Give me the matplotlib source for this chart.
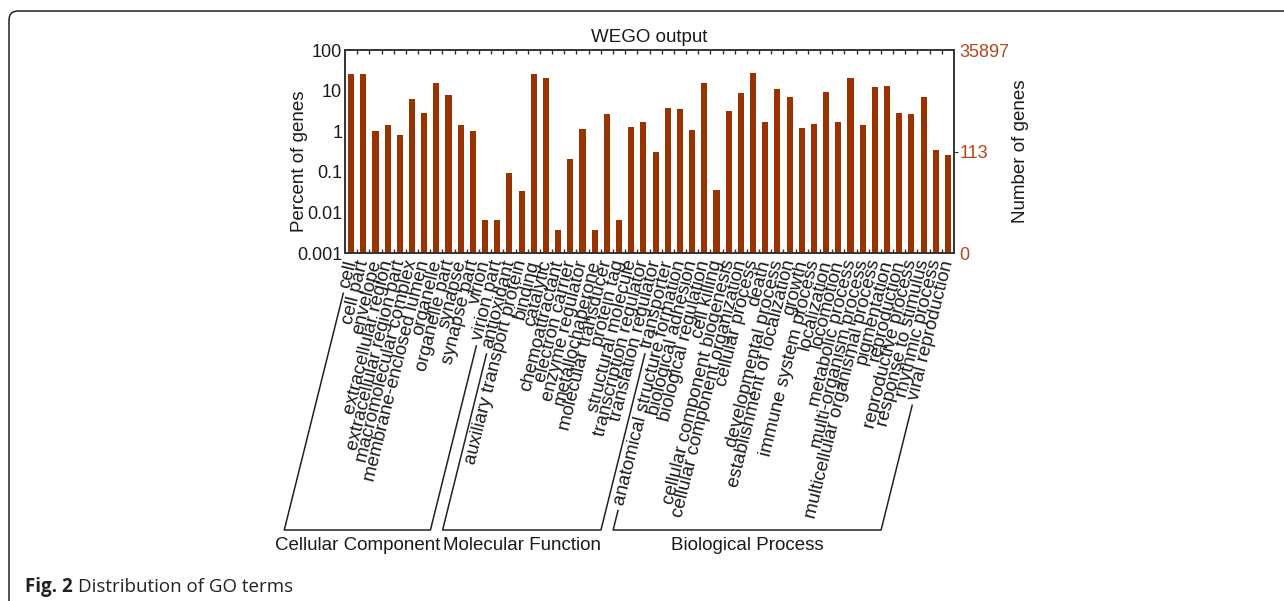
import numpy as np
import matplotlib
matplotlib.use("Agg")
import matplotlib.pyplot as plt
from matplotlib.patches import FancyBboxPatch
from matplotlib.lines import Line2D
from matplotlib.transforms import IdentityTransform, ScaledTranslation

plt.rcParams['font.family'] = ['Liberation Sans', 'DejaVu Sans']

# GO terms, grouped
cc_terms = ["cell", "cell part", "envelope", "extracellular region",
            "extracellular region part", "macromolecular complex",
            "membrane-enclosed lumen", "organelle", "organelle part",
            "synapse", "synapse part", "virion", "virion part"]
mf_terms = ["antioxidant", "auxiliary transport protein", "binding", "catalytic",
            "chemoattractant", "electron carrier", "enzyme regulator",
            "metallochaperone", "molecular transducer", "protein tag",
            "structural molecule", "transcription regulator",
            "translation regulator", "transporter"]
bp_terms = ["anatomical structure formation", "biological adhesion",
            "biological regulation", "cell killing",
            "cellular component biogenesis", "cellular component organization",
            "cellular process", "death", "developmental process",
            "establishment of localization", "growth", "immune system process",
            "localization", "locomotion", "metabolic process",
            "multi-organism process", "multicellular organismal process",
            "pigmentation", "reproduction", "reproductive process",
            "response to stimulus", "rhythmic process", "viral reproduction"]
group_names = ["Cellular Component", "Molecular Function", "Biological Process"]

# percent of genes
cc_pct = [25.7, 25.7, 1.0, 1.46, 0.81, 6.1, 2.88, 15.1, 7.7, 1.46, 1.0, 0.0055, 0.0055]
mf_pct = [0.093, 0.033, 25.0, 20.1, 0.0027, 0.205, 1.16, 0.0027, 2.72, 0.0055,
          1.30, 1.70, 0.305, 3.82]
bp_pct = [3.54, 1.08, 15.1, 0.0354, 3.22, 8.93, 27.7, 1.70, 10.8, 7.1, 1.21, 1.49,
          9.4, 1.70, 20.5, 1.41, 12.3, 13.3, 2.88, 2.72, 6.86, 0.341, 0.257]

total_genes = 35897
mid_genes = 113

terms = cc_terms + mf_terms + bp_terms
pct = cc_pct + mf_pct + bp_pct
groups = [cc_terms, mf_terms, bp_terms]

bar_col = '#993300'
num_col = '#b5461e'
txt_col = '#1a1a1a'
ang = 76.0
fs = 13.5

fig = plt.figure(figsize=(12.84, 6.01), dpi=100)
ax = fig.add_axes([0.2687, 0.5785, 0.4743, 0.3383])

x = np.arange(len(terms))
ax.bar(x, pct, width=0.5, color=bar_col, bottom=0.001)
ax.set_yscale('log')
ax.set_ylim(0.001, 100)
ax.set_xlim(-0.5, len(terms) - 0.5)
ax.set_yticks([100, 10, 1, 0.1, 0.01, 0.001])
ax.set_yticklabels(['100', '10', '1', '0.1', '0.01', '0.001'])
ax.minorticks_off()
ax.tick_params(axis='y', length=0, labelsize=13, colors=txt_col, pad=2)
ax.set_xticks(np.arange(len(terms) - 1) + 0.5)
ax.set_xticklabels([])
ax.tick_params(axis='x', direction='in', length=3, top=True, bottom=True,
               color='#333333', width=1)
for s in ax.spines.values():
    s.set_color('#333333')
    s.set_linewidth(1.4)
ax.set_title("WEGO output", fontsize=13.5, color=txt_col, pad=6)
ax.set_ylabel("Percent of genes", fontsize=13.5, color=txt_col)
ax.yaxis.set_label_coords(-0.060, 0.455)

ax2 = ax.twinx()
ax2.set_yscale('log')
ax2.set_ylim(0.001, 100)
ax2.minorticks_off()
ax2.set_yticks([100, 100.0 * mid_genes / total_genes, 0.001])
ax2.set_yticklabels([str(total_genes), str(mid_genes), '0'])
ax2.tick_params(axis='y', length=3, labelsize=13, labelcolor=num_col,
                color='#333333', pad=1)
tk = ax2.yaxis.get_major_ticks()
tk[0].tick2line.set_visible(False)
tk[2].tick2line.set_visible(False)
ax2.set_ylabel("Number of genes", fontsize=13.5, color=txt_col)
ax2.yaxis.set_label_coords(1.096, 0.5)
for s in ax2.spines.values():
    s.set_visible(False)

# slanted category labels
off = ax.get_xaxis_transform() + ScaledTranslation(0.3 / 72, -5 / 72, fig.dpi_scale_trans)
labs = []
for i, t in enumerate(terms):
    labs.append(ax.text(i, 0, t, transform=off, rotation=ang, rotation_mode='anchor',
                        ha='right', va='center', fontsize=fs, color=txt_col))

fig.canvas.draw()
r = fig.canvas.get_renderer()
u = np.array([np.cos(np.radians(ang)), np.sin(np.radians(ang))])
inv = fig.transFigure.inverted()
y_bot = 71.0
gap = 6.0


def label_start(k):
    t = labs[k]
    w, h, d = r.get_text_width_height_descent(t.get_text(), t.get_fontproperties(), ismath=False)
    a = off.transform((k, 0))
    return np.array(a) - (w + gap) * u


def down(p):
    return p - ((p[1] - y_bot) / u[1]) * u


k0 = 0
for g, name in zip(groups, group_names):
    k1 = k0 + len(g) - 1
    top_l = label_start(k0)
    top_r = label_start(k1)
    bl = down(top_l)
    br = down(top_r)
    pts = np.array([top_l, bl, br, top_r])
    pf = inv.transform(pts)
    fig.lines.append(Line2D(pf[:, 0], pf[:, 1], transform=fig.transFigure,
                            color='#222222', lw=1.1))
    cx = inv.transform([((bl[0] + br[0]) / 2, y_bot - 15)])[0]
    fig.text(cx[0], cx[1], name, ha='center', va='center', fontsize=fs, color=txt_col)
    k0 = k1 + 1

# page frame and caption
frame = FancyBboxPatch((9, -12), 1320, 602, boxstyle="round,pad=0,rounding_size=9",
                       transform=IdentityTransform(), fill=False, ec='#222222', lw=1.1)
fig.patches.append(frame)

c1 = fig.text(25 / 1284, 14 / 601, "Fig. 2", fontsize=13.5, fontweight='bold',
              family=['Open Sans', 'DejaVu Sans'], color='#222222', va='center')
fig.canvas.draw()
bb = c1.get_window_extent(fig.canvas.get_renderer())
fig.text((bb.x1 + 5) / 1284, 14 / 601, "Distribution of GO terms", fontsize=13.5,
         family=['Open Sans', 'DejaVu Sans'], color='#222222', va='center')

fig.savefig("out.png", dpi=100)
